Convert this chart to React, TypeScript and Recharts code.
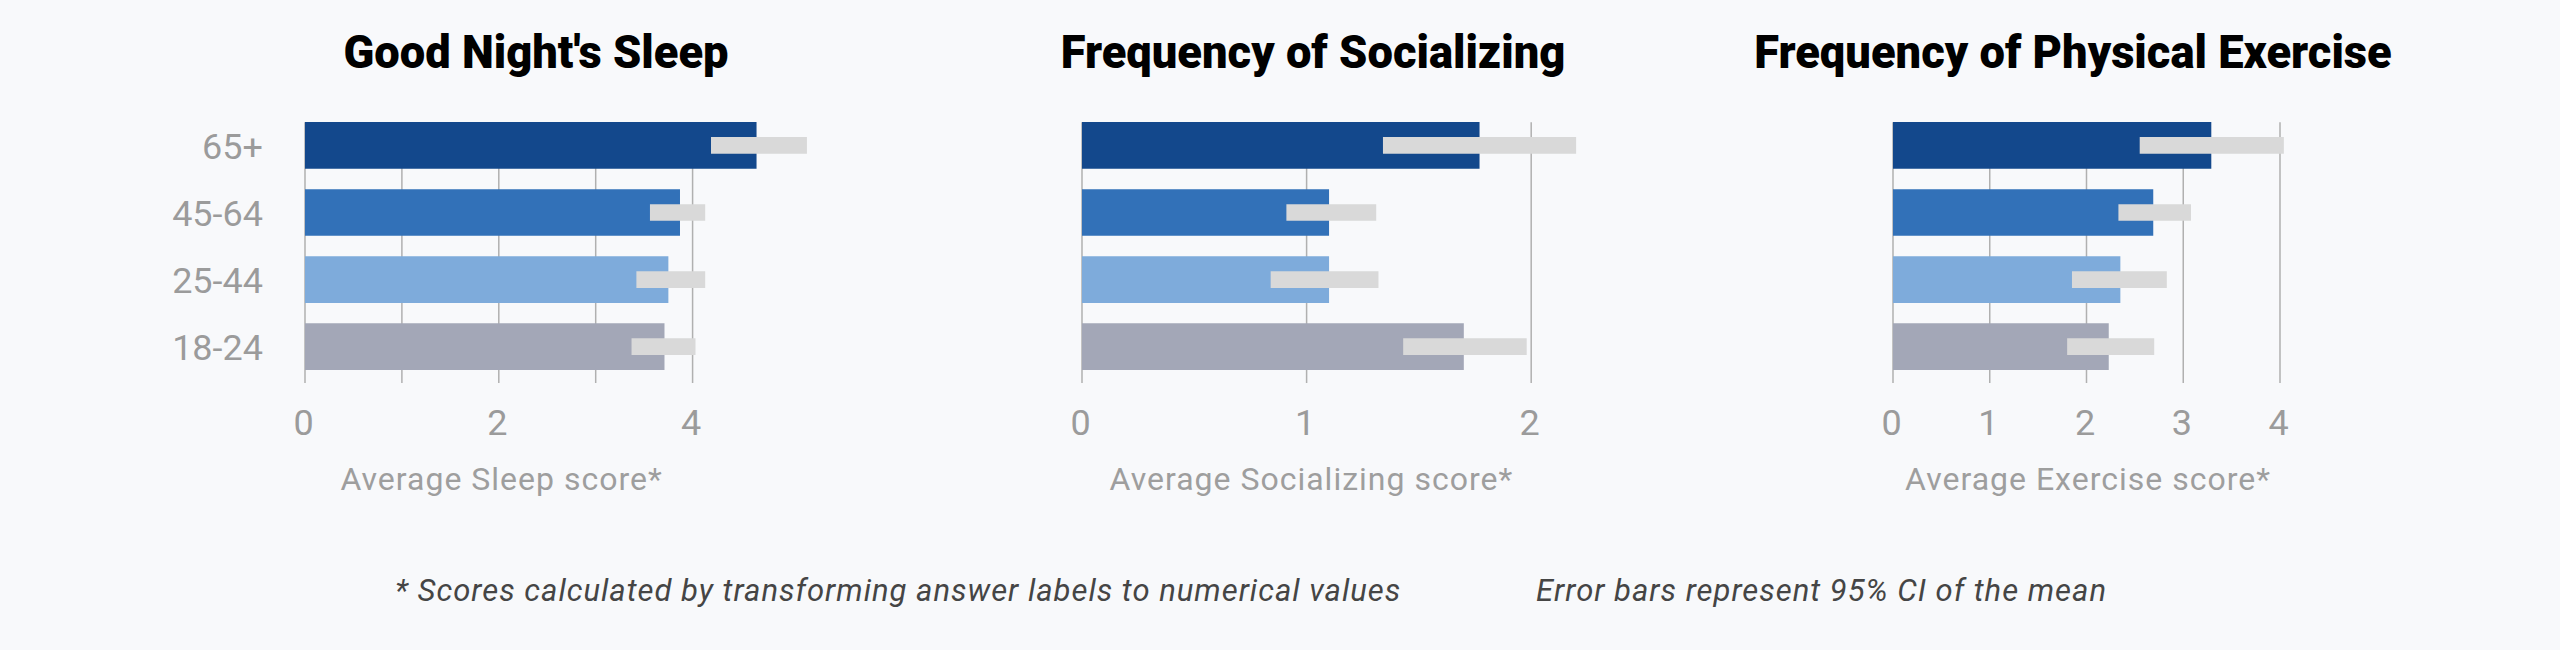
import React from 'react';
import { BarChart, Bar, XAxis, YAxis, CartesianGrid, Cell } from 'recharts';

const ageGroups = ['65+', '45-64', '25-44', '18-24'];
const barColors = ['#13488c', '#3271b8', '#7eabdb', '#a3a7b7'];

const sleepMean = [4.66, 3.87, 3.75, 3.71];
const sleepLow = [4.19, 3.56, 3.42, 3.37];
const sleepHigh = [5.18, 4.13, 4.13, 4.03];

const socialMean = [1.77, 1.1, 1.1, 1.7];
const socialLow = [1.34, 0.91, 0.84, 1.43];
const socialHigh = [2.2, 1.31, 1.32, 1.98];

const exerciseMean = [3.29, 2.69, 2.35, 2.23];
const exerciseLow = [2.55, 2.33, 1.85, 1.8];
const exerciseHigh = [4.04, 3.08, 2.83, 2.7];

const sleepTicks = [0, 1, 2, 3, 4];
const sleepTickLabels = [0, 2, 4];
const socialTicks = [0, 1, 2];
const exerciseTicks = [0, 1, 2, 3, 4];

const FONT = 'Roboto, "Noto Sans", sans-serif';
const PLOT_TOP = 111.5;
const PLOT_H = 268.5;
const X_AXIS_H = 80;
const PAD_LEFT = 30;

interface PanelProps {
  plotLeft: number;
  pxPerUnit: number;
  domainMax: number;
  ticks: number[];
  tickLabels: number[];
  mean: number[];
  low: number[];
  high: number[];
  showCategories?: boolean;
}

const Panel: React.FC<PanelProps> = ({ plotLeft, pxPerUnit, domainMax, ticks, tickLabels, mean, low, high, showCategories }) => {
  const data = ageGroups.map((age, i) => ({
    age,
    mean: mean[i],
    ci: [low[i], high[i]],
  }));
  const yw = showCategories ? 150 : 0;
  const plotW = domainMax * pxPerUnit;
  const plotRight = PAD_LEFT + yw + plotW;

  // every tick gets a grid line, only some get a label
  const renderXTick = (p: any) => {
    const v = p.payload.value;
    if (!tickLabels.includes(v)) return <g />;
    return (
      <text x={p.x - 1.5} y={p.y + 47} textAnchor="middle" fill="#9b9b9b" fontSize={36} fontWeight={400} fontFamily={FONT}>
        {v}
      </text>
    );
  };

  const renderYTick = (p: any) => (
    <text x={PAD_LEFT + yw - 42} y={p.y} dy="0.36em" textAnchor="end" fill="#9b9b9b" fontSize={36} fontWeight={400} fontFamily={FONT}>
      {p.payload.value}
    </text>
  );

  const renderGridLine = (g: any) => {
    if (g.x1 > plotRight - 0.5) return <g key={g.key} />;
    return <line key={g.key} x1={g.x1} x2={g.x2} y1={g.y1 + 10.2} y2={g.y2 + 2.5} stroke="#b0b0b0" strokeWidth={1.5} />;
  };

  return (
    <div style={{ position: 'absolute', left: plotLeft - yw - PAD_LEFT, top: PLOT_TOP }}>
      <BarChart
        width={PAD_LEFT + yw + plotW}
        height={PLOT_H + X_AXIS_H}
        data={data}
        layout="vertical"
        margin={{ top: 0, right: 0, left: PAD_LEFT, bottom: 0 }}
      >
        <CartesianGrid horizontal={false} vertical={renderGridLine} />
        <XAxis
          type="number"
          domain={[0, domainMax]}
          ticks={ticks}
          interval={0}
          axisLine={false}
          tickLine={false}
          tickMargin={2}
          height={X_AXIS_H}
          tick={renderXTick}
        />
        <YAxis
          yAxisId="main"
          type="category"
          dataKey="age"
          width={yw}
          hide={!showCategories}
          axisLine={false}
          tickLine={false}
          tick={renderYTick}
        />
        <YAxis yAxisId="err" type="category" dataKey="age" hide />
        <Bar yAxisId="main" dataKey="mean" barSize={46.7} isAnimationActive={false}>
          {data.map((d, i) => (
            <Cell key={d.age} fill={barColors[i]} />
          ))}
        </Bar>
        <Bar yAxisId="err" dataKey="ci" barSize={16.7} fill="#d9d9d9" isAnimationActive={false} />
      </BarChart>
    </div>
  );
};

const App: React.FC = () => {
  const titleStyle = { fontFamily: FONT, fontSize: 45.3, fontWeight: 900, fill: '#000' } as const;
  const axisTitleStyle = { fontFamily: FONT, fontSize: 32, fontWeight: 400, letterSpacing: 1, fill: '#9e9e9e' } as const;
  const noteStyle = { fontFamily: FONT, fontSize: 31, fontStyle: 'italic', letterSpacing: 1, fill: '#454545' } as const;

  return (
    <div style={{ position: 'absolute', left: 0, top: 0, width: 2560, height: 650, background: '#f8f9fb', overflow: 'hidden' }}>
      <Panel
        plotLeft={305.4}
        pxPerUnit={96.9}
        domainMax={5.4}
        ticks={sleepTicks}
        tickLabels={sleepTickLabels}
        mean={sleepMean}
        low={sleepLow}
        high={sleepHigh}
        showCategories
      />
      <Panel
        plotLeft={1082.1}
        pxPerUnit={224.6}
        domainMax={2.3}
        ticks={socialTicks}
        tickLabels={socialTicks}
        mean={socialMean}
        low={socialLow}
        high={socialHigh}
      />
      <Panel
        plotLeft={1892.9}
        pxPerUnit={96.75}
        domainMax={4.2}
        ticks={exerciseTicks}
        tickLabels={exerciseTicks}
        mean={exerciseMean}
        low={exerciseLow}
        high={exerciseHigh}
      />
      <svg width={2560} height={650} style={{ position: 'absolute', left: 0, top: 0, pointerEvents: 'none' }}>
        <text x={536} y={68.3} textAnchor="middle" style={titleStyle}>Good Night's Sleep</text>
        <text x={1313} y={68.3} textAnchor="middle" style={titleStyle}>Frequency of Socializing</text>
        <text x={2073} y={68.3} textAnchor="middle" style={titleStyle}>Frequency of Physical Exercise</text>
        <text x={501.6} y={490} textAnchor="middle" style={axisTitleStyle}>Average Sleep score*</text>
        <text x={1311.4} y={490} textAnchor="middle" style={axisTitleStyle}>Average Socializing score*</text>
        <text x={2088} y={490} textAnchor="middle" style={axisTitleStyle}>Average Exercise score*</text>
        <text x={395} y={600.7} style={noteStyle}>* Scores calculated by transforming answer labels to numerical values</text>
        <text x={1536} y={600.7} style={noteStyle}>Error bars represent 95% CI of the mean</text>
      </svg>
    </div>
  );
};

export default App;
